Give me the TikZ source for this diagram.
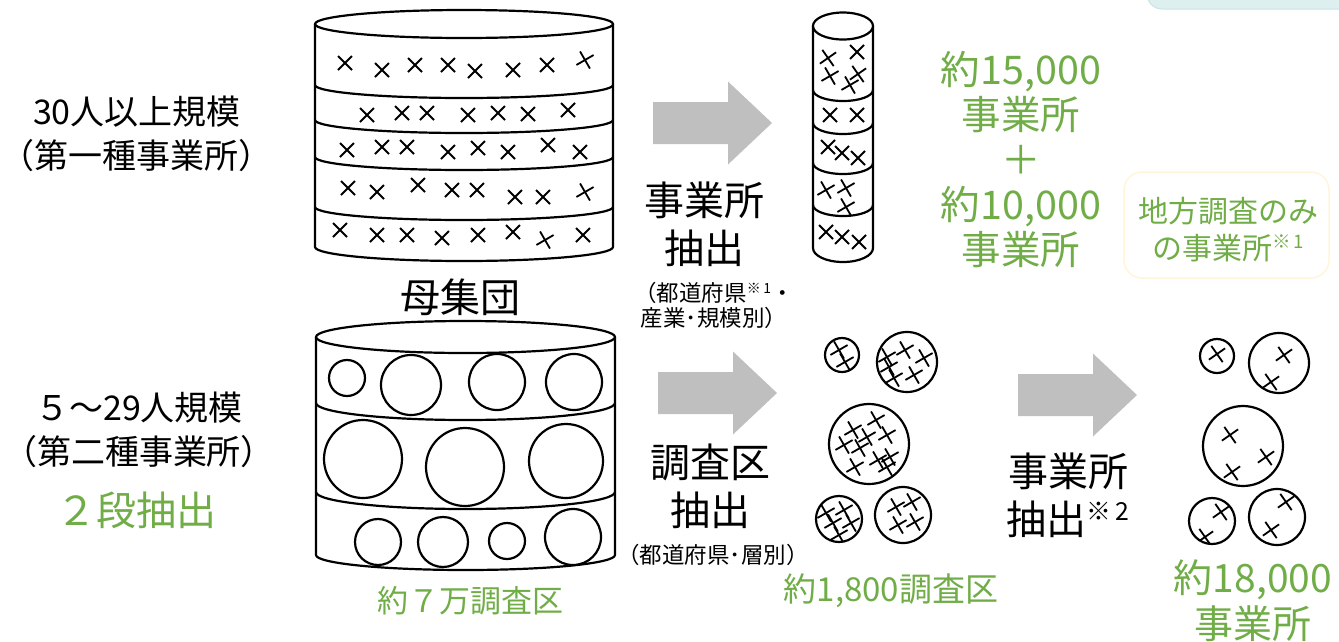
\documentclass[tikz,border=0pt]{standalone}
\usepackage{fontspec}
\setmainfont{Noto Sans CJK JP}
\usetikzlibrary{positioning, calc}

\definecolor{leafgreen}{HTML}{70AD47}
\definecolor{arrowgray}{HTML}{BFBFBF}
\definecolor{notefill}{HTML}{DDEFEF}
\definecolor{notedraw}{HTML}{C8E3E3}
\definecolor{boxedge}{HTML}{FFF5DA}

\newcommand{\notemark}[1]{\raisebox{.36em}{\scalebox{.62}{※\,#1}}}

\tikzset{
  ink/.style={draw=black, line width=2.2pt},
  xmark/.pic={\draw[line width=1.8pt] (-7,-7) -- (7,7) (-7,7) -- (7,-7);},
  blockarrow/.pic={\fill[arrowgray] (0,-21) -- (75,-21) -- (75,-41.5) -- (119,0)
      -- (75,41.5) -- (75,21) -- (0,21) -- cycle;},
  blacktext/.style={inner sep=0pt, align=center, font=\fontsize{34}{44}\selectfont},
  bigtext/.style={inner sep=0pt, align=center, font=\fontsize{40}{48}\selectfont},
  smalltext/.style={inner sep=0pt, align=center, font=\fontsize{22.5}{25}\selectfont},
  greentext/.style={inner sep=0pt, align=center, text=leafgreen, font=\fontsize{39.5}{45}\selectfont}
}

\begin{document}
\begin{tikzpicture}[x=1pt, y=-1pt]
\useasboundingbox (0,0) rectangle (1339,641);

% corner of a note box, cut by the page
\filldraw[fill=notefill, draw=notedraw, line width=1pt, rounded corners=15]
    (1147,-40) rectangle (1380,9);

% left captions
\node[blacktext] (large) at (137,133.5) {30人以上規模\\（第一種事業所）};
\node[blacktext] (small) at (139,430) {５～29人規模\\（第二種事業所）};
\node[greentext, font=\fontsize{40}{44}\selectfont] (twostage) at (136,510) {２段抽出};

% population, first kind: cylinder with five strata
\draw[ink, fill=white] (315,24) -- (315,247)
    arc[start angle=180, end angle=0, x radius=149, y radius=14] -- (613,24);
\draw[ink, fill=white] (464,24) ellipse[x radius=149, y radius=14];
\foreach \dy in {85,120,157,207}
    \draw[ink] (315,\dy) arc[start angle=180, end angle=0, x radius=149, y radius=13];
\foreach \px/\py/\rot in {345/63/0, 382/70/0, 415/65/0, 448/65/0, 475/71/0, 513/70/0, 547/65/0, 585/60/-15,
    367/115/0, 402/113/0, 427/113/0, 468/115/0, 498/113/0, 528/114/0, 568/110/0,
    347/150/0, 382/147/0, 407/147/0, 448/152/0, 478/148/0, 508/152/0, 548/145/0, 580/152/0,
    348/188/0, 377/192/0, 418/185/0, 452/190/0, 477/190/0, 515/197/0, 543/197/0, 585/192/-15,
    340/230/0, 377/235/0, 407/235/0, 442/238/0, 478/235/0, 513/232/0, 545/240/-15, 583/235/0}
    \pic[rotate=\rot] at (\px,\py) {xmark};

\node[bigtext] (pop) at (460,297) {母集団};

% population, second kind: cylinder of areas
\draw[ink, fill=white] (316,337) -- (316,555)
    arc[start angle=180, end angle=0, x radius=149.5, y radius=15] -- (615,337);
\draw[ink, fill=white] (465.5,337) ellipse[x radius=149.5, y radius=16];
\foreach \dy in {403,492}
    \draw[ink] (316,\dy) arc[start angle=180, end angle=0, x radius=149.5, y radius=17];
\foreach \cx/\cy/\r in {347/378/18, 411/385/30, 497/382/28, 574/382/28,
    363/459/39, 465/467/39, 566/461/37,
    378/542/23, 443/542/25, 507/541/18, 573/537/28}
    \draw[ink] (\cx,\cy) circle[radius=\r];

\node[greentext, font=\fontsize{31}{36}\selectfont] (areas) at (470,601) {約７万調査区};

% sampling arrows
\pic at (653,123) {blockarrow};
\pic at (658,393) {blockarrow};
\pic at (1018,395) {blockarrow};

\node[bigtext] (pickfirm) at (704,224) {事業所\\抽出};
\node[smalltext] (byprefA) at (714,305.5) {（都道府県\notemark{1}・\\産業･規模別）};
\node[bigtext] (pickarea) at (710,486) {調査区\\抽出};
\node[smalltext] (byprefB) at (713,555) {（都道府県･層別）};
\node[bigtext] (pickfirmB) at (1068,495.5) {事業所\\抽出\notemark{2}};

% sample, first kind
\draw[ink, fill=white] (813,26) -- (813,248)
    arc[start angle=180, end angle=0, x radius=30, y radius=14] -- (873,26);
\draw[ink, fill=white] (843,26) ellipse[x radius=30, y radius=13.5];
\foreach \dy in {90,123,163,205}
    \draw[ink] (813,\dy) arc[start angle=180, end angle=0, x radius=30, y radius=11];
\foreach \px/\py/\rot in {828/58/-10, 857/52/0, 830/76/-15, 858/74/-10, 850/85/-15,
    830/115/0, 857/115/0,
    828/147/0, 842/153/0, 858/158/0,
    826/190/-15, 846/188/-15, 846/207/-15,
    826/232/0, 842/237/0, 859/242/0}
    \pic[rotate=\rot] at (\px,\py) {xmark};

\node[greentext] (firmsA) at (1021,160) {約15,000\\事業所\\＋\\約10,000\\事業所};
\draw[boxedge, line width=1.5pt, rounded corners=18] (1124,172) rectangle (1329,278);
\node[greentext, font=\fontsize{30}{37}\selectfont] (localonly) at (1228,229.5)
    {地方調査のみ\\の事業所\notemark{1}};

% sampled areas
\foreach \cx/\cy/\r/\marks in {
    842/355/17/{839/350,845/362},
    907/362/30/{887/357,905/350,924/358,894/378,914/375,889/367},
    869/444/40/{876/420,853/430,867/437,887/435,844/445,860/448,878/460,890/457,855/467,887/467},
    839/519/23/{826/513,844/510,833/523,851/523,839/535},
    903/515/28/{896/507,912/502,898/525,915/522}} {
    \begin{scope}
        \clip (\cx,\cy) circle[radius=\r];
        \foreach \px/\py in \marks
            \pic[rotate=-15] at (\px,\py) {xmark};
    \end{scope}
    \draw[ink] (\cx,\cy) circle[radius=\r];
}
\node[greentext, font=\fontsize{33}{38}\selectfont] (areasB) at (891,591) {約1,800調査区};

% sampled firms
\foreach \cx/\cy/\r/\marks in {
    1217/356/17/{1217/354},
    1279/363/30/{1284/355,1271/382},
    1243/446/40/{1230/435,1266/457,1232/472},
    1212/521/23/{1221/512,1205/537},
    1277/517/28/{1286/502,1271/530}} {
    \begin{scope}
        \clip (\cx,\cy) circle[radius=\r];
        \foreach \px/\py in \marks
            \pic[rotate=-10] at (\px,\py) {xmark};
    \end{scope}
    \draw[ink] (\cx,\cy) circle[radius=\r];
}
\node[greentext, font=\fontsize{39}{46}\selectfont] (firmsB) at (1253,601) {約18,000\\事業所};
\end{tikzpicture}
\end{document}
